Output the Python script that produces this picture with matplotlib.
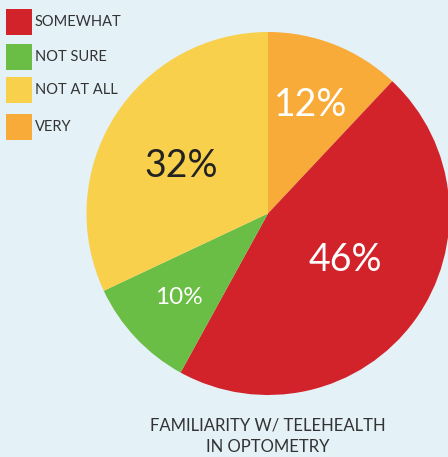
import matplotlib
matplotlib.use('Agg')
import matplotlib.pyplot as plt
from matplotlib.patches import Rectangle

# data, in the clockwise drawing order starting at 12 o'clock
labels = ['VERY', 'SOMEWHAT', 'NOT SURE', 'NOT AT ALL']
values = [12, 46, 10, 32]
colors = ['#f9ab3a', '#d2232a', '#6abd45', '#f9d04c']
legend_order = ['SOMEWHAT', 'NOT SURE', 'NOT AT ALL', 'VERY']
title = 'FAMILIARITY W/ TELEHEALTH\nIN OPTOMETRY'

W, H = 448, 457
bg = '#e4f1f6'
plt.rcParams['font.family'] = ['Lato', 'DejaVu Sans']

fig = plt.figure(figsize=(W / 100, H / 100), dpi=100, facecolor=bg)
ax = fig.add_axes([0, 0, 1, 1])
ax.set_xlim(0, W)
ax.set_ylim(0, H)
ax.set_aspect('equal')
ax.axis('off')

# pie in pixel coords (y measured from bottom)
cx, cy, r = 268, H - 213.5, 181.5
ax.pie(values, colors=colors, startangle=90, counterclock=False,
       center=(cx, cy), radius=r, frame=True,
       wedgeprops=dict(linewidth=0))
ax.set_xlim(0, W)
ax.set_ylim(0, H)
ax.axis('off')

# percent labels (pixel positions from top-left)
pct_pos = {'VERY': (311, 105), 'SOMEWHAT': (345, 260),
           'NOT SURE': (178.5, 298), 'NOT AT ALL': (181.5, 166)}
pct_col = {'VERY': 'white', 'SOMEWHAT': 'white',
           'NOT SURE': 'white', 'NOT AT ALL': '#222222'}
pct_size = {'VERY': 27, 'SOMEWHAT': 27, 'NOT SURE': 17.5, 'NOT AT ALL': 27}
for lab, v in zip(labels, values):
    x, y = pct_pos[lab]
    ax.text(x, H - y, f'{v}%', color=pct_col[lab], fontsize=pct_size[lab],
            ha='center', va='center')

# legend
cmap = dict(zip(labels, colors))
tops = [9, 44, 77, 114]
for lab, t in zip(legend_order, tops):
    ax.add_patch(Rectangle((6, H - t - 26), 26, 26, color=cmap[lab], lw=0))
    ax.text(35, H - t - 13, lab, color='#333333', fontsize=10.5,
            ha='left', va='center')

ax.text(267.5, H - 436, title, color='#333333', fontsize=12,
        ha='center', va='center', linespacing=1.45)

fig.savefig('out.png', dpi=100, facecolor=bg)
